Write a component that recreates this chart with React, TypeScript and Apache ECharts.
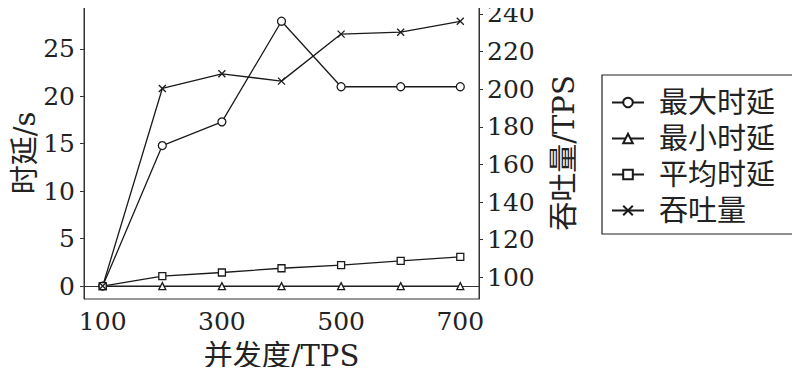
import React, { useEffect, useRef } from "react";
import * as echarts from "echarts";

const xValues = [100, 200, 300, 400, 500, 600, 700];
const maxDelay = [0, 14.8, 17.3, 27.9, 21.0, 21.0, 21.0];
const minDelay = [0, 0, 0, 0, 0, 0, 0];
const avgDelay = [0, 1.05, 1.43, 1.88, 2.2, 2.65, 3.07];
const throughput = [95.4, 200.4, 208.2, 204.3, 229.3, 230.3, 236.1];

const xTickValues = [100, 200, 300, 400, 500, 600, 700];
const xLabelValues = [100, 300, 500, 700];
const leftTicks = [0, 5, 10, 15, 20, 25];
const rightTicks = [100, 120, 140, 160, 180, 200, 220, 240];

const seriesNames = ["最大时延", "最小时延", "平均时延", "吞吐量"];

const FONT = "'DejaVu Serif', 'Noto Sans CJK SC', serif";
const INK = "#1a1a1a";

const pairs = (ys: number[]) => xValues.map((x, i) => [x, ys[i]]);

export default function App() {
  const ref = useRef<HTMLDivElement>(null);
  useEffect(() => {
    if (!ref.current) return;
    const chart = echarts.init(ref.current, undefined, { renderer: "svg" });
    const lineBase = {
      type: "line" as const,
      lineStyle: { color: INK, width: 1.3 },
      itemStyle: { color: "#fff", borderColor: INK, borderWidth: 1.3 },
      emphasis: { disabled: true },
      z: 3,
    };
    const tickLabel = { fontFamily: FONT, fontSize: 25, color: "#222" };
    const nameStyle = { fontFamily: FONT, fontSize: 29, color: "#222" };
    chart.setOption({
      animation: false,
      grid: {
        left: 84,
        top: 7,
        right: 321,
        bottom: 74,
        show: true,
        borderColor: "#333",
        borderWidth: 1,
        containLabel: false,
      },
      legend: {
        orient: "vertical",
        left: 602,
        top: 75,
        data: seriesNames,
        itemWidth: 32,
        itemHeight: 12,
        itemGap: 7,
        padding: [13, 20, 9, 9],
        borderColor: "#222",
        borderWidth: 1.2,
        textStyle: {
          fontFamily: FONT,
          fontSize: 29,
          color: "#222",
          lineHeight: 29,
          padding: [0, 0, 0, 10],
        },
      },
      xAxis: {
        type: "value",
        min: 68.6,
        max: 731.4,
        name: "并发度/TPS",
        nameLocation: "middle",
        nameGap: 42,
        nameTextStyle: nameStyle,
        axisLine: { show: true, lineStyle: { color: "#333", width: 1 } },
        axisTick: {
          show: true,
          customValues: xTickValues,
          length: 4,
          lineStyle: { color: "#333" },
        },
        axisLabel: { ...tickLabel, customValues: xLabelValues, margin: 10 },
        splitLine: { show: false },
      },
      yAxis: [
        {
          type: "value",
          min: -1.36,
          max: 29.4,
          name: "时延/s",
          nameLocation: "middle",
          nameGap: 45,
          nameTextStyle: nameStyle,
          axisLine: { show: true, lineStyle: { color: "#333", width: 1 } },
          axisTick: {
            show: true,
            customValues: leftTicks,
            length: 4,
            lineStyle: { color: "#333" },
          },
          axisLabel: { ...tickLabel, customValues: leftTicks, margin: 9 },
          splitLine: { show: false },
        },
        {
          type: "value",
          min: 88.5,
          max: 243.7,
          position: "right",
          name: "吞吐量/TPS",
          nameLocation: "middle",
          nameGap: 70,
          nameRotate: 90,
          nameTextStyle: nameStyle,
          axisLine: { show: true, lineStyle: { color: "#333", width: 1 } },
          axisTick: {
            show: true,
            customValues: rightTicks,
            length: 4,
            lineStyle: { color: "#333" },
          },
          axisLabel: { ...tickLabel, customValues: rightTicks, margin: 8 },
          splitLine: { show: false },
        },
      ],
      series: [
        {
          ...lineBase,
          name: seriesNames[0],
          yAxisIndex: 0,
          symbol: "circle",
          symbolSize: 8,
          data: pairs(maxDelay),
        },
        {
          ...lineBase,
          name: seriesNames[1],
          yAxisIndex: 0,
          symbol: "triangle",
          symbolSize: 7,
          data: pairs(minDelay),
        },
        {
          ...lineBase,
          name: seriesNames[2],
          yAxisIndex: 0,
          symbol: "rect",
          symbolSize: 7,
          data: pairs(avgDelay),
        },
        {
          ...lineBase,
          name: seriesNames[3],
          yAxisIndex: 1,
          symbol: "path://M0,0L10,10M10,0L0,10",
          symbolSize: 7,
          data: pairs(throughput),
        },
      ],
    });
    return () => chart.dispose();
  }, []);
  return <div ref={ref} style={{ width: 800, height: 375, margin: -8 }} />;
}
